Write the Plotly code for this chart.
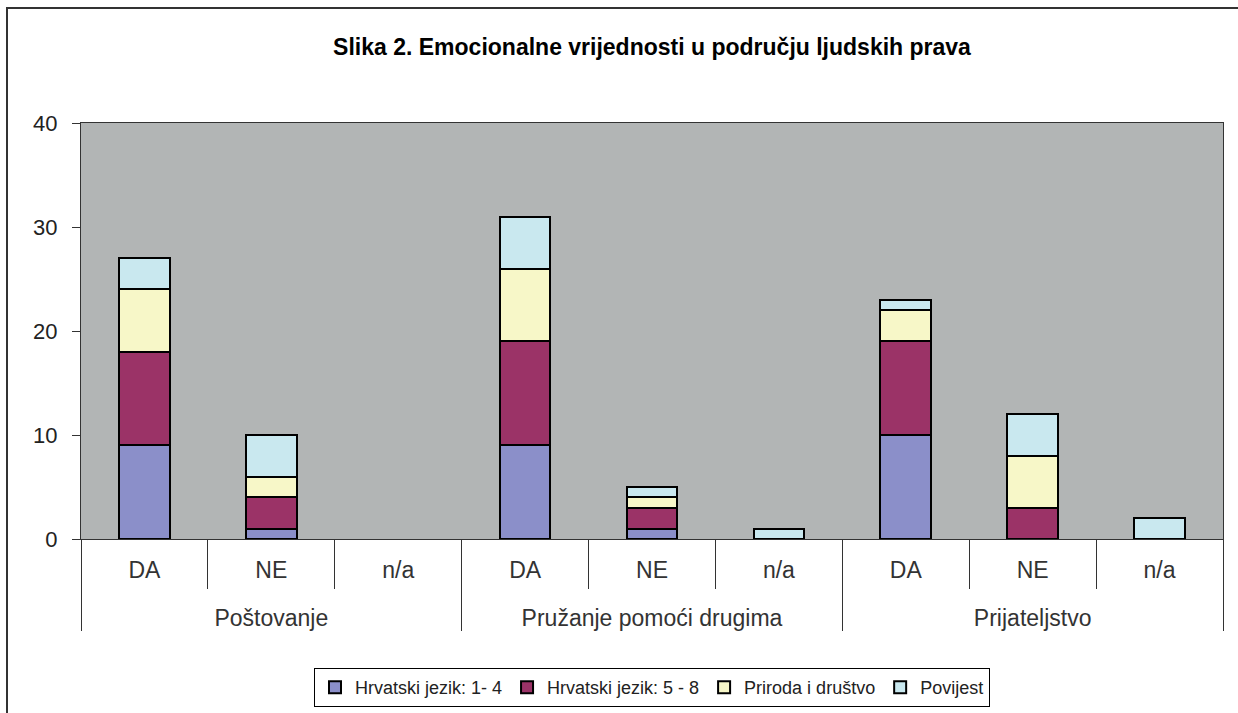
import plotly.graph_objects as go

# data
groups = ["Poštovanje"] * 3 + ["Pružanje pomoći drugima"] * 3 + ["Prijateljstvo"] * 3
answers = ["DA", "NE", "n/a"] * 3

series_names = ["Hrvatski jezik: 1- 4", "Hrvatski jezik: 5 - 8", "Priroda i društvo", "Povijest"]
hrv_1_4 = [9, 1, 0, 9, 1, 0, 10, 0, 0]
hrv_5_8 = [9, 3, 0, 10, 2, 0, 9, 3, 0]
priroda = [6, 2, 0, 7, 1, 0, 3, 5, 0]
povijest = [3, 4, 0, 5, 1, 1, 1, 4, 2]

y_ticks = [0, 10, 20, 30, 40]

colors = ["#8b8fc9", "#9b3367", "#f7f7c8", "#c9e8ef"]
font = "Liberation Sans, Arial, sans-serif"

# push the group labels one line lower, like the Excel axis
group_labels = ["<br>" + g for g in groups]

fig = go.Figure()

for name, vals, col in zip(series_names, [hrv_1_4, hrv_5_8, priroda, povijest], colors):
    fig.add_trace(go.Bar(
        x=[group_labels, answers],
        y=[v if v else None for v in vals],
        name=name,
        marker=dict(color=col, line=dict(color="black", width=2)),
        hovertemplate='%{x}: %{y}<extra>' + name + '</extra>'
    ))

fig.update_layout(
    barmode="stack",
    bargap=0.6,
    width=1238,
    height=713,
    margin=dict(l=81, r=15, t=123, b=174, autoexpand=False),
    plot_bgcolor="#b2b5b5",
    paper_bgcolor="white",
    font=dict(family=font, color="#222"),
    title=dict(
        text="<b>Slika 2. Emocionalne vrijednosti u području ljudskih prava</b>",
        xref="paper", x=0.5, xanchor="center",
        y=1 - 47 / 713, yanchor="middle",
        font=dict(size=23, color="black")
    ),
    legend=dict(
        orientation="h",
        x=0.5, xanchor="center",
        yref="container", y=1 - 668 / 713, yanchor="top",
        bordercolor="black", borderwidth=1,
        font=dict(size=18, color="#222"),
        itemwidth=30,
        traceorder="normal"
    ),
    xaxis=dict(
        type="multicategory",
        automargin=False,
        showline=True, linecolor="#333", linewidth=1, mirror=True,
        ticks="outside", tickson="boundaries", ticklen=49, tickcolor="#333",
        showdividers=True, dividercolor="#333", dividerwidth=1,
        ticklabelstandoff=10,
        tickfont=dict(size=23, color="#333"),
        showgrid=False
    ),
    yaxis=dict(
        range=[0, 40],
        tickvals=y_ticks,
        automargin=False,
        showline=True, linecolor="#333", linewidth=1, mirror=True,
        ticks="outside", ticklen=8, tickcolor="#333",
        ticklabelstandoff=10,
        tickfont=dict(size=22, color="#222"),
        showgrid=False, zeroline=False
    )
)

# outer chart frame
fig.add_shape(
    type="rect", xref="paper", yref="paper",
    x0=(7 - 81) / 1142, x1=1.05, y0=-0.5, y1=(539 - 8) / 416,
    line=dict(color="#333", width=2), layer="below"
)

fig.write_html("out.html", config={"displayModeBar": False},
               post_script="document.body.style.margin='0';")
